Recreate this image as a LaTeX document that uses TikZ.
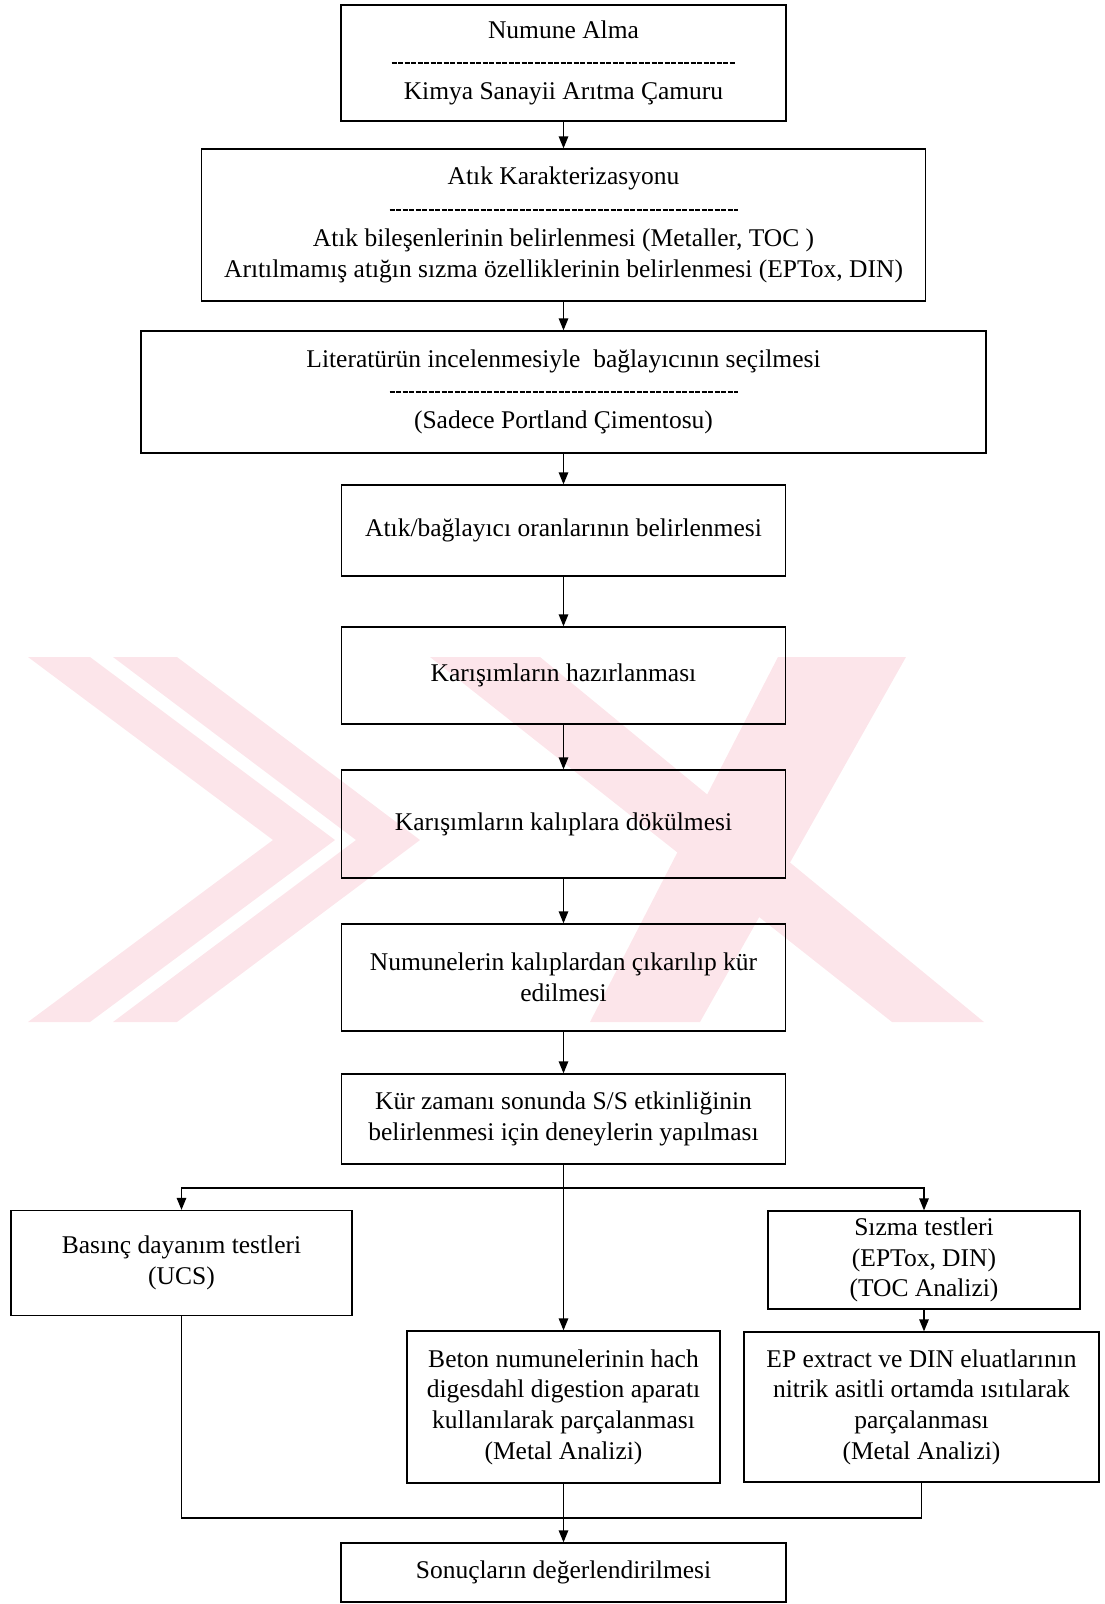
\documentclass[tikz,border=0pt]{standalone}
\usepackage{fontspec}
\setmainfont{Liberation Serif}
\usetikzlibrary{arrows.meta}

\definecolor{wmpink}{RGB}{252,229,234}

\begin{document}
\begin{tikzpicture}[x=1pt,y=-1pt,>={Triangle[length=12pt,width=9.5pt]},font=\fontsize{25.5}{30.7}\selectfont,
  stepbox/.style={draw,line width=1.3pt,inner sep=0pt,align=center},
  divider/.style={line width=1.2pt,dash pattern=on 5pt off 1.5pt},
  link/.style={line width=1.3pt}]
\useasboundingbox (0,0) rectangle (1104,1604);
% watermark
\fill[wmpink] (28,657)--(90,657)--(335,840)--(90,1022)--(28,1022)--(273,840)--cycle;
\fill[wmpink] (113,657)--(177,657)--(420,840)--(177,1022)--(113,1022)--(356,840)--cycle;
\fill[wmpink] (778,657)--(906,657)--(700,1022)--(590,1022)--cycle;
\fill[wmpink] (430,657)--(540,657)--(984,1022)--(892,1022)--cycle;
% main column
\node[stepbox,minimum width=445pt,minimum height=116pt] (sample) at (563.5,63) {Numune Alma\\[31pt]Kimya Sanayii Arıtma Çamuru};
\node[stepbox,minimum width=724pt,minimum height=152pt] (charact) at (563.5,225) {Atık Karakterizasyonu\\[31pt]Atık bileşenlerinin belirlenmesi (Metaller, TOC )\\Arıtılmamış atığın sızma özelliklerinin belirlenmesi (EPTox, DIN)};
\node[stepbox,minimum width=845pt,minimum height=122pt] (binder) at (563.5,392) {Literatürün incelenmesiyle \ bağlayıcının seçilmesi\\[31pt](Sadece Portland Çimentosu)};
\node[stepbox,minimum width=444pt,minimum height=91pt] (ratio) at (563.5,530.5) {Atık/bağlayıcı oranlarının belirlenmesi};
\node[stepbox,minimum width=444pt,minimum height=97pt] (mix) at (563.5,675.5) {Karışımların hazırlanması};
\node[stepbox,minimum width=444pt,minimum height=108pt] (mould) at (563.5,824) {Karışımların kalıplara dökülmesi};
\node[stepbox,minimum width=444pt,minimum height=107pt] (cure) at (563.5,977.5) {Numunelerin kalıplardan çıkarılıp kür\\edilmesi};
\node[stepbox,minimum width=444pt,minimum height=90pt] (tests) at (563.5,1119) {Kür zamanı sonunda S/S etkinliğinin\\belirlenmesi için deneylerin yapılması};
% branches
\node[stepbox,minimum width=341pt,minimum height=105pt] (ucs) at (181.5,1263) {Basınç dayanım testleri\\(UCS)};
\node[stepbox,minimum width=312pt,minimum height=98pt] (leach) at (924,1260) {Sızma testleri\\(EPTox, DIN)\\(TOC Analizi)};
\node[stepbox,minimum width=313pt,minimum height=152pt] (digest) at (563.5,1407) {Beton numunelerinin hach\\digesdahl digestion aparatı\\kullanılarak parçalanması\\(Metal Analizi)};
\node[stepbox,minimum width=355pt,minimum height=150pt] (eluate) at (921.5,1407) {EP extract ve DIN eluatlarının\\nitrik asitli ortamda ısıtılarak\\parçalanması\\(Metal Analizi)};
\node[stepbox,minimum width=445pt,minimum height=59pt] (result) at (563.5,1572.5) {Sonuçların değerlendirilmesi};
% dashed separators
\draw[divider] ([xshift=-172pt]sample.center) -- ([xshift=172pt]sample.center);
\draw[divider] ([xshift=-174pt,yshift=15pt]charact.center) -- ([xshift=174pt,yshift=15pt]charact.center);
\draw[divider] ([xshift=-174pt]binder.center) -- ([xshift=174pt]binder.center);
% arrows
\draw[link,->] (sample) -- (charact);
\draw[link,->] (charact) -- (binder);
\draw[link,->] (binder) -- (ratio);
\draw[link,->] (ratio) -- (mix);
\draw[link,->] (mix) -- (mould);
\draw[link,->] (mould) -- (cure);
\draw[link,->] (cure) -- (tests);
\coordinate (split) at (563.5,1188);
\coordinate (merge) at (563.5,1518);
\draw[link,->] (tests) -- (digest);
\draw[link,->] (split) -| (ucs.north);
\draw[link,->] (split) -| (leach.north);
\draw[link,->] (leach.south) -- (leach.south |- eluate.north);
\draw[link] (ucs.south) |- (merge);
\draw[link] (eluate.south) |- (merge);
\draw[link,->] (digest) -- (result);
\end{tikzpicture}
\end{document}
